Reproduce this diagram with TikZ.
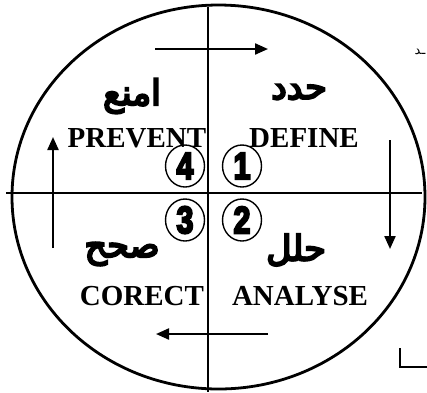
\documentclass[tikz,border=0pt]{standalone}
\usepackage{fontspec}
\setmainfont{Liberation Serif}
\newfontfamily\arabicfont[Script=Arabic,FakeBold=6]{DejaVu Sans}
\newfontfamily\plainarabic[Script=Arabic]{DejaVu Sans}
\newfontfamily\digitfont[FakeBold=6]{Liberation Sans Bold}
\TeXXeTstate=1
\usetikzlibrary{arrows.meta,shapes.geometric}
\tikzset{
  axisline/.style={line width=2.8pt},
  cycarrow/.style={line width=2.2pt,-{Triangle[length=13pt,width=11pt]}},
  engl/.style={font=\fontsize{29}{30}\selectfont\bfseries, inner sep=0pt},
  arab/.style={font=\arabicfont\fontsize{35}{36}\selectfont, inner sep=0pt},
  numcirc/.style={draw, ellipse, line width=1.4pt, minimum width=39pt, minimum height=42pt, inner sep=0pt,
    font=\digitfont\fontsize{38}{38}\selectfont}
}
\begin{document}
\begin{tikzpicture}[x=1pt,y=-1pt]
\useasboundingbox (0,0) rectangle (427,392);
% ellipse
\node[draw, ellipse, line width=2.8pt, minimum width=413pt, minimum height=384pt, inner sep=0pt] (circ) at (218.5,197) {};
% axes
\coordinate (vt) at (208,7);
\coordinate (vb) at (208,392);
\coordinate (hl) at (6,193);
\coordinate (hr) at (422,193);
\draw[axisline] (vt) -- (vb);
\draw[axisline] (hl) -- (hr);
% cycle arrows
\coordinate (a1s) at (155,49); \coordinate (a1e) at (268,49);
\coordinate (a2s) at (390,140); \coordinate (a2e) at (390,249);
\coordinate (a3s) at (268,334); \coordinate (a3e) at (156,334);
\coordinate (a4s) at (53,248); \coordinate (a4e) at (53,137);
\draw[cycarrow] (a1s) -- (a1e);
\draw[cycarrow] (a2s) -- (a2e);
\draw[cycarrow] (a3s) -- (a3e);
\draw[cycarrow] (a4s) -- (a4e);
% labels
\node[arab] (ar1) at (299,92) {\beginR حدد\endR};
\node[engl] (en1) at (304,138) {DEFINE};
\node[arab] (ar4) at (132,96) {\beginR امنع\endR};
\node[engl] (en4) at (137,138) {PREVENT};
\node[arab] (ar3) at (122,254) {\beginR صحح\endR};
\node[engl] (en3) at (142,296) {CORECT};
\node[arab] (ar2) at (296,250) {\beginR حلل\endR};
\node[engl] (en2) at (300,296) {ANALYSE};
% numbered circles
\node[numcirc] (n1) at (242,166) {\scalebox{0.8}[1]{1}};
\node[numcirc] (n4) at (185,166) {\scalebox{0.8}[1]{4}};
\node[numcirc] (n3) at (185,220) {\scalebox{0.8}[1]{3}};
\node[numcirc] (n2) at (242,220) {\scalebox{0.8}[1]{2}};
% fragments at the right edge
\node[font=\plainarabic\fontsize{13}{13}\selectfont, inner sep=0pt] (frag) at (420,52) {\beginR ـد\endR};
\coordinate (b1) at (400,348);
\coordinate (b2) at (400,367);
\coordinate (b3) at (427,367);
\draw[line width=1.5pt] (b1) -- (b2) -- (b3);
\end{tikzpicture}
\end{document}
